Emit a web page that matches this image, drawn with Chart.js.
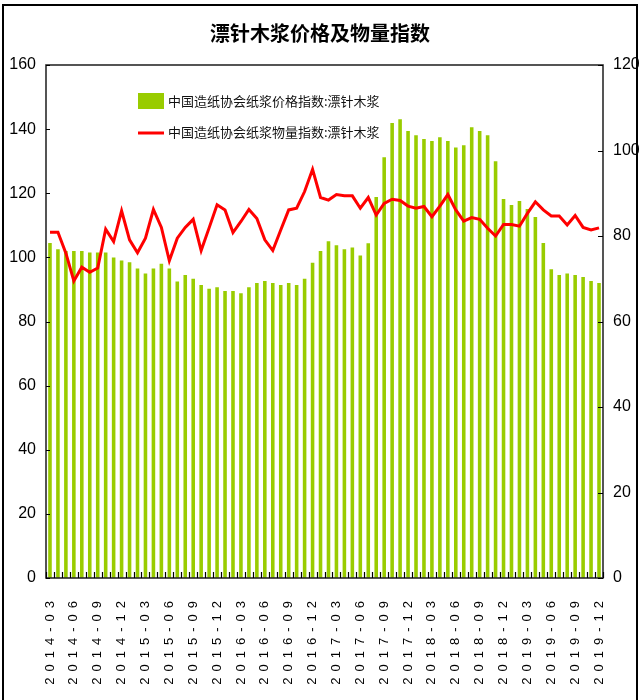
<!DOCTYPE html>
<html>
<head>
<meta charset="utf-8">
<script src="https://cdn.jsdelivr.net/npm/chart.js@4.4.1/dist/chart.umd.min.js"></script>
<style>
html,body{margin:0;padding:0;background:#fff;}
#wrap{position:relative;width:640px;height:700px;}
canvas{display:block;}
</style>
</head>
<body>
<div id="wrap"><canvas id="c" width="640" height="700"></canvas></div>
<script>
const chartTitle = '漂针木浆价格及物量指数';
const priceLabel = '中国造纸协会纸浆价格指数:漂针木浆';
const volumeLabel = '中国造纸协会纸浆物量指数:漂针木浆';

const categories = [
  '2014-03','2014-04','2014-05','2014-06','2014-07','2014-08','2014-09','2014-10','2014-11','2014-12',
  '2015-01','2015-02','2015-03','2015-04','2015-05','2015-06','2015-07','2015-08','2015-09','2015-10','2015-11','2015-12',
  '2016-01','2016-02','2016-03','2016-04','2016-05','2016-06','2016-07','2016-08','2016-09','2016-10','2016-11','2016-12',
  '2017-01','2017-02','2017-03','2017-04','2017-05','2017-06','2017-07','2017-08','2017-09','2017-10','2017-11','2017-12',
  '2018-01','2018-02','2018-03','2018-04','2018-05','2018-06','2018-07','2018-08','2018-09','2018-10','2018-11','2018-12',
  '2019-01','2019-02','2019-03','2019-04','2019-05','2019-06','2019-07','2019-08','2019-09','2019-10','2019-11','2019-12'
];

// 价格指数 (left axis)
const priceIndex = [
  104.5,102.5,102,102,102,101.5,101.5,101.5,100,99,
  98.5,96.5,95,96.5,98,96.5,92.5,94.5,93.3,91.4,90.2,90.7,
  89.5,89.5,88.8,90.7,92,92.6,92,91.4,92,91.4,93.3,98.3,
  102,105,103.8,102.5,103.1,100.6,104.4,118.8,131.2,141.9,143.1,139.4,
  138.1,136.9,136.3,137.5,136.3,134.3,135,140.6,139.4,138.1,130,118.2,
  116.3,117.6,115.1,112.6,104.5,96.3,94.5,95,94.5,93.9,92.6,92
];

// 物量指数 (right axis)
const volumeIndex = [
  80.9,80.9,76,69.5,72.7,71.5,72.5,81.6,78.7,85.9,
  79.1,76.1,79.5,86.2,82,74.2,79.5,82,83.9,76.6,81.9,87.3,
  86.1,80.8,83.4,86.2,84.1,79.1,76.6,81.4,86.1,86.5,90.4,95.6,
  89,88.4,89.7,89.4,89.4,86.5,89,84.9,87.6,88.6,88.3,87,
  86.5,86.9,84.5,87,89.7,86.1,83.5,84.3,83.9,81.8,80,82.7,
  82.7,82.3,85.3,88,86.1,84.7,84.7,82.6,84.8,82,81.4,81.9
];

const leftAxisMax = 160;
const rightAxisMax = 120;
const tickStep = 20;

const BAR_COLOR = '#99cc00';
const LINE_COLOR = '#ff0000';

const decorPlugin = {
  id: 'decor',
  beforeDraw(chart) {
    const sx = chart.scales.x;
    if (sx && !sx._spacedPatch) {
      const orig = sx.drawLabels;
      sx.drawLabels = function(area) {
        const ctx = this.ctx;
        ctx.save();
        ctx.letterSpacing = '6px';
        orig.call(this, area);
        ctx.restore();
      };
      sx._spacedPatch = true;
    }
  },
  afterDraw(chart) {
    const ctx = chart.ctx;
    const a = chart.chartArea;
    const sx = chart.scales.x, sy = chart.scales.y, sy1 = chart.scales.y1;
    ctx.save();
    // plot frame
    ctx.strokeStyle = '#2b2b2b';
    ctx.lineWidth = 1.6;
    ctx.strokeRect(a.left, a.top, a.right - a.left, a.bottom - a.top);
    // inward ticks
    ctx.lineWidth = 1.2;
    ctx.strokeStyle = '#000';
    ctx.beginPath();
    sy.ticks.forEach(t => {
      const y = Math.round(sy.getPixelForValue(t.value)) + 0.5;
      ctx.moveTo(a.left, y); ctx.lineTo(a.left + 4, y);
    });
    sy1.ticks.forEach(t => {
      const y = Math.round(sy1.getPixelForValue(t.value)) + 0.5;
      ctx.moveTo(a.right, y); ctx.lineTo(a.right - 5, y);
    });
    const half = (sx.getPixelForValue(1) - sx.getPixelForValue(0)) / 2;
    for (let i = 0; i <= categories.length; i++) {
      const x = Math.round(sx.getPixelForValue(i) - half) + 0.5;
      ctx.moveTo(x, a.bottom); ctx.lineTo(x, a.bottom - 6);
    }
    ctx.stroke();
    // legend
    const ds = chart.data.datasets;
    ctx.font = '13px "Noto Sans CJK SC"';
    ctx.fillStyle = '#111';
    ctx.textBaseline = 'middle';
    ctx.textAlign = 'left';
    ctx.fillStyle = ds[0].backgroundColor;
    ctx.fillRect(138, 93, 26, 16);
    ctx.fillStyle = '#111';
    ctx.fillText(ds[0].label, 168, 101);
    ctx.strokeStyle = ds[1].borderColor;
    ctx.lineWidth = 3;
    ctx.beginPath();
    ctx.moveTo(138, 133); ctx.lineTo(164, 133);
    ctx.stroke();
    ctx.fillText(ds[1].label, 168, 132);
    // outer border
    ctx.fillStyle = '#000';
    ctx.fillRect(2, 4, 636, 2);
    ctx.fillRect(2, 4, 2, 696);
    ctx.fillRect(636, 4, 2, 696);
    ctx.restore();
  }
};

new Chart(document.getElementById('c'), {
  data: {
    labels: categories,
    datasets: [
      {
        type: 'line',
        label: volumeLabel,
        data: volumeIndex,
        yAxisID: 'y1',
        borderColor: LINE_COLOR,
        backgroundColor: LINE_COLOR,
        borderWidth: 3,
        pointRadius: 0,
        tension: 0,
        order: 1
      },
      {
        type: 'bar',
        label: priceLabel,
        data: priceIndex,
        yAxisID: 'y',
        backgroundColor: BAR_COLOR,
        borderWidth: 0,
        categoryPercentage: 1,
        barPercentage: 0.45,
        order: 2
      }
    ].reverse()
  },
  options: {
    responsive: false,
    animation: false,
    devicePixelRatio: 1,
    layout: { padding: { left: 0, right: 0, top: 0, bottom: 0 } },
    plugins: {
      legend: { display: false },
      tooltip: { enabled: false },
      title: {
        display: true,
        text: chartTitle,
        color: '#000',
        font: { family: '"Noto Sans CJK SC"', size: 20, weight: 'bold', lineHeight: 1.2 },
        padding: { top: 21, bottom: 20 }
      }
    },
    scales: {
      x: {
        type: 'category',
        offset: true,
        grid: { display: false, drawTicks: false },
        border: { display: false },
        ticks: {
          autoSkip: false,
          minRotation: 90,
          maxRotation: 90,
          padding: 17,
          color: '#000',
          font: { family: '"Liberation Sans", Arial, sans-serif', size: 13 },
          callback: function(value, index) { return index % 3 === 0 ? this.getLabelForValue(value) : ''; }
        },
        afterFit(scale) { scale.height = 122; }
      },
      y: {
        position: 'left',
        min: 0, max: leftAxisMax,
        grid: { display: false, drawTicks: false },
        border: { display: false },
        ticks: {
          stepSize: tickStep, padding: 10, color: '#000',
          font: { family: '"Liberation Sans Narrow", "Liberation Sans", Arial, sans-serif', size: 16 }
        },
        afterFit(scale) { scale.width = 46; }
      },
      y1: {
        position: 'right',
        min: 0, max: rightAxisMax,
        grid: { display: false, drawTicks: false },
        border: { display: false },
        ticks: {
          stepSize: tickStep, padding: 10, color: '#000',
          font: { family: '"Liberation Sans Narrow", "Liberation Sans", Arial, sans-serif', size: 16 }
        },
        afterFit(scale) { scale.width = 37; }
      }
    }
  },
  plugins: [decorPlugin]
});
</script>
</body>
</html>
